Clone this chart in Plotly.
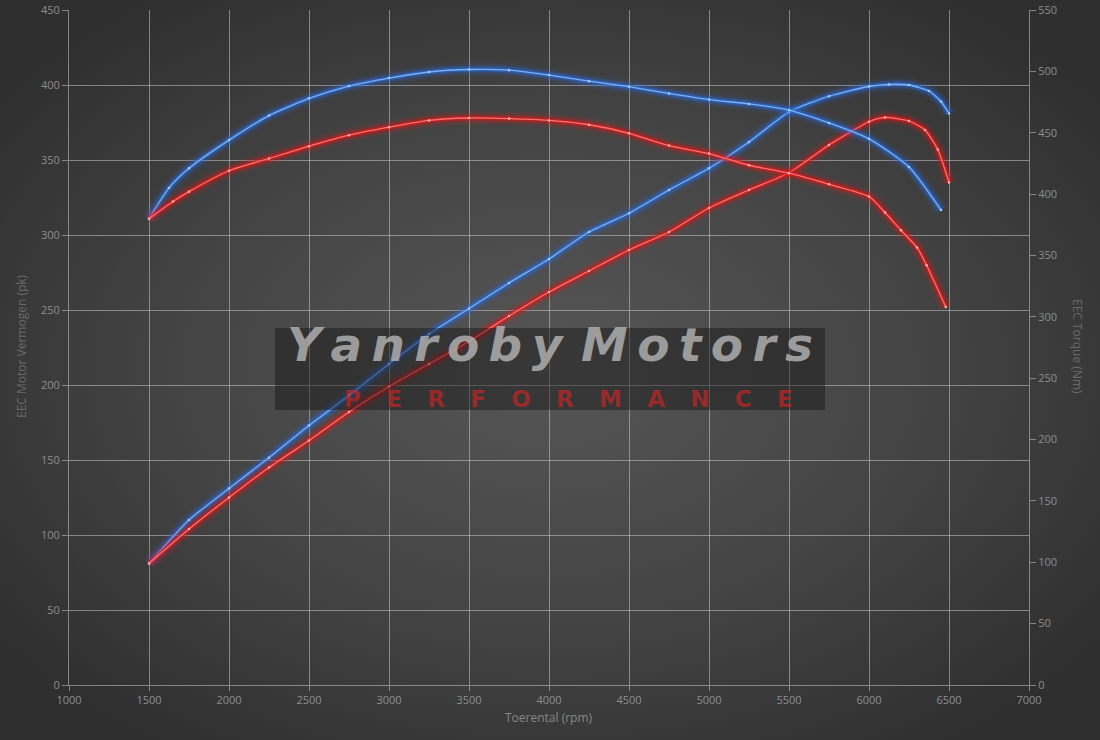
import base64
import plotly.graph_objects as go

# ---------------- data ----------------
rpm_pwr_blue = [1500, 1750, 2000, 2250, 2500, 2750, 3000, 3250, 3500, 3750, 4000, 4250,
                4500, 4750, 5000, 5250, 5500, 5750, 6000, 6125, 6250, 6375, 6450, 6500]
pk_blue = [81, 110, 131, 151.5, 173, 193, 214, 234, 251, 268, 284, 302,
           314.5, 330, 344.5, 362, 382, 392.5, 399, 400.4, 400, 396, 389, 381]

rpm_pwr_red = [1500, 1750, 2000, 2250, 2500, 2750, 3000, 3250, 3500, 3750, 4000, 4250,
               4500, 4750, 5000, 5250, 5500, 5750, 6000, 6100, 6250, 6350, 6430, 6500]
pk_red = [81, 104, 125, 145, 163, 182, 199, 214, 229, 246, 262, 276,
          290, 302, 318, 330, 341.5, 360, 375.5, 378.4, 376, 370, 357, 335]

rpm_tq_blue = [1500, 1625, 1750, 2000, 2250, 2500, 2750, 3000, 3250, 3500, 3750, 4000,
               4250, 4500, 4750, 5000, 5250, 5500, 5750, 6000, 6250, 6450]
nm_blue = [380, 405, 421, 444, 464, 478, 488, 494.5, 499.5, 501.5, 501, 497,
           492, 487.5, 482, 477, 473.5, 468.5, 458, 445, 422, 387]

rpm_tq_red = [1500, 1650, 1750, 2000, 2250, 2500, 2750, 3000, 3250, 3500, 3750, 4000,
              4250, 4500, 4750, 5000, 5250, 5500, 5750, 6000, 6100, 6200, 6300, 6360, 6480]
nm_red = [380, 394, 402, 419, 429, 439, 448, 454.5, 460, 462, 461.5, 460,
          456.5, 449.5, 439.5, 433, 423.5, 417, 408, 398, 385, 370.5, 356.5, 342, 308]

x_ticks = list(range(1000, 7001, 500))
pk_ticks = list(range(0, 451, 50))
nm_ticks = list(range(0, 551, 50))

# ---------------- figure ----------------
fig = go.Figure()

BLUE_GLOW = "rgba(40,110,230,{a})"
BLUE_CORE = "#7ab2f2"
RED_GLOW = "rgba(235,20,20,{a})"
RED_CORE = "#ff7070"


def glow_line(x, y, glow, core, dot, yaxis):
    for w, a in [(14, 0.10), (8.5, 0.22), (4.5, 0.5)]:
        fig.add_trace(go.Scatter(x=x, y=y, yaxis=yaxis, mode="lines",
                                 line=dict(color=glow.format(a=a), width=w,
                                           shape="spline", smoothing=0.6),
                                 hoverinfo="skip", showlegend=False))
    fig.add_trace(go.Scatter(x=x, y=y, yaxis=yaxis, mode="lines+markers",
                             line=dict(color=core, width=1.3, shape="spline", smoothing=0.6),
                             marker=dict(size=2.5, color=dot),
                             showlegend=False))


glow_line(rpm_tq_blue, nm_blue, BLUE_GLOW, BLUE_CORE, "#a8ccf5", "y2")
glow_line(rpm_pwr_blue, pk_blue, BLUE_GLOW, BLUE_CORE, "#a8ccf5", "y")
glow_line(rpm_tq_red, nm_red, RED_GLOW, RED_CORE, "#ffb0b0", "y2")
glow_line(rpm_pwr_red, pk_red, RED_GLOW, RED_CORE, "#ffb0b0", "y")

# background radial gradient as inline svg
svg = """<svg xmlns='http://www.w3.org/2000/svg' width='1100' height='740'>
<defs><radialGradient id='g' cx='50%' cy='50%' r='62%'>
<stop offset='0%' stop-color='#565656'/>
<stop offset='55%' stop-color='#444444'/>
<stop offset='100%' stop-color='#2f2f2f'/>
</radialGradient></defs>
<rect width='1100' height='740' fill='url(#g)'/></svg>"""
src = "data:image/svg+xml;base64," + base64.b64encode(svg.encode()).decode()

L, R, T, B = 69, 71, 10, 55
PW, PH = 1100 - L - R, 740 - T - B

fig.add_layout_image(dict(source=src, xref="paper", yref="paper",
                          x=-L / PW, y=1 + T / PH, sizex=1100 / PW, sizey=740 / PH,
                          sizing="stretch", layer="below", xanchor="left", yanchor="top"))

tickfont = dict(family="Open Sans, DejaVu Sans, sans-serif", size=11, color="#8e8e8e")
grid = "rgba(200,200,200,0.55)"

fig.update_layout(
    width=1100, height=740,
    margin=dict(l=L, r=R, t=T, b=B, autoexpand=False),
    paper_bgcolor="#3a3a3a",
    plot_bgcolor="rgba(0,0,0,0)",
    showlegend=False,
    xaxis=dict(range=[1000, 7000], tickvals=x_ticks, showgrid=True, gridcolor=grid,
               gridwidth=1, zeroline=False, showline=True, linecolor=grid,
               ticks="outside", ticklen=5, tickcolor=grid, tickfont=tickfont,
               mirror=False, automargin=False),
    yaxis=dict(range=[0, 450], tickvals=pk_ticks, showgrid=True, gridcolor=grid,
               gridwidth=1, zeroline=False, showline=True, linecolor=grid,
               ticks="outside", ticklen=6, tickcolor=grid, tickfont=tickfont,
               automargin=False),
    yaxis2=dict(range=[0, 550], tickvals=nm_ticks, overlaying="y", side="right",
                showgrid=False, zeroline=False, showline=True, linecolor=grid,
                ticks="outside", ticklen=6, tickcolor=grid, tickfont=tickfont,
                automargin=False),
)

# axis titles
title_font = dict(family="Open Sans, DejaVu Sans, sans-serif", size=12, color="#6a6a6a")
fig.add_annotation(text="Toerental (rpm)", xref="paper", yref="paper", x=0.5,
                   y=-(717 - 685) / PH, xanchor="center", yanchor="middle", showarrow=False,
                   font=dict(family="Open Sans, DejaVu Sans, sans-serif", size=12, color="#888888"))
fig.add_annotation(text="EEC Motor Vermogen (pk)", xref="paper", yref="paper",
                   x=-(69 - 21) / PW, y=1 - (346 - T) / PH, textangle=-90, showarrow=False,
                   xanchor="center", yanchor="middle", font=title_font)
fig.add_annotation(text="EEC Torque (Nm)", xref="paper", yref="paper",
                   x=1 + (1078 - 1029) / PW, y=1 - (346 - T) / PH, textangle=90, showarrow=False,
                   xanchor="center", yanchor="middle", font=title_font)

# watermark
fig.add_shape(type="rect", xref="paper", yref="paper",
              x0=(275 - L) / PW, x1=(825 - L) / PW,
              y0=1 - (410 - T) / PH, y1=1 - (328 - T) / PH,
              fillcolor="rgba(20,20,20,0.45)", line=dict(width=0), layer="above")
ts = "\u2009"
brand = ts.join("Yanroby") + ts + ts + ts.join("Motors")
fig.add_annotation(text="<b><i>" + brand + "</i></b>", xref="paper", yref="paper",
                   x=(550 - L) / PW, y=1 - (344 - T) / PH, showarrow=False,
                   xanchor="center", yanchor="middle",
                   font=dict(family="DejaVu Sans, sans-serif", size=47,
                             color="rgba(175,175,175,0.85)"))
perf = ("\u2003" + "\u200a").join("PERFORMANCE")
fig.add_annotation(text="<b>" + perf + "</b>", xref="paper", yref="paper",
                   x=(568 - L) / PW, y=1 - (399 - T) / PH, showarrow=False,
                   xanchor="center", yanchor="middle",
                   font=dict(family="DejaVu Sans, sans-serif", size=23,
                             color="rgba(210,35,35,0.65)"))

fig.write_html("out.html", config={"displayModeBar": False},
               post_script="document.body.style.margin='0';document.body.style.overflow='hidden';")
